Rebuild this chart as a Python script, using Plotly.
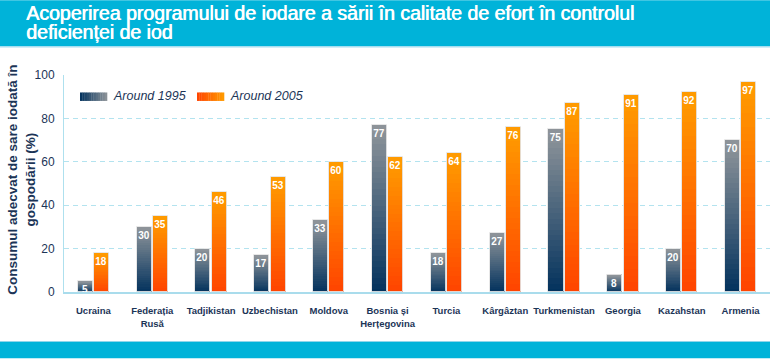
import plotly.graph_objects as go

# ---- data ----
countries = ["Ucraina", "Federația<br>Rusă", "Tadjikistan", "Uzbechistan", "Moldova",
             "Bosnia și<br>Herțegovina", "Turcia", "Kârgâztan", "Turkmenistan",
             "Georgia", "Kazahstan", "Armenia"]
around_1995 = [5, 30, 20, 17, 33, 77, 18, 27, 75, 8, 20, 70]
around_2005 = [18, 35, 46, 53, 60, 62, 64, 76, 87, 91, 92, 97]
series_names = ["Around 1995", "Around 2005"]
y_ticks = [0, 20, 40, 60, 80, 100]

TITLE1 = "Acoperirea programului de iodare a sării în calitate de efort în controlul"
TITLE2 = "deficienței de iod"
YTITLE = "Consumul adecvat de sare iodată în<br>gospodării (%)"

# ---- style ----
W, H = 770, 359
L, R, T, B = 64, 0, 75, 66.5
PW, PH = W - L - R, H - T - B
NAVY_TXT = "#1c3557"
CYAN = "#00b3d9"

grad_1995 = ("#00305c", "#8f959a")   # bottom, top
grad_2005 = ("#ff4200", "#ff9c00")
K = 30


def hex2rgb(h):
    h = h.lstrip("#")
    return tuple(int(h[i:i + 2], 16) for i in (0, 2, 4))


def lerp(c1, c2, t):
    a, b = hex2rgb(c1), hex2rgb(c2)
    return "rgb(%d,%d,%d)" % tuple(round(a[i] + (b[i] - a[i]) * t) for i in range(3))


def px(xp):
    return (xp - L) / PW


def py(yp):
    return (H - B - yp) / PH


fig = go.Figure()

for vals, grad, off, name in [(around_1995, grad_1995, -0.265, series_names[0]),
                              (around_2005, grad_2005, 0.01, series_names[1])]:
    for k in range(K):
        t = (k + 0.5) / K
        lo = max(k - 0.5, 0)
        fig.add_trace(go.Bar(
            x=countries, y=[v * (k + 1 - lo) / K for v in vals],
            base=[v * lo / K for v in vals],
            offset=off, width=0.255,
            marker=dict(color=lerp(grad[0], grad[1], t), line=dict(width=0)),
            showlegend=False, hoverinfo="skip"))
    fig.add_trace(go.Bar(
        x=countries, y=vals, name=name, offset=off, width=0.255,
        marker=dict(color="rgba(0,0,0,0)", line=dict(color="rgba(228,228,228,0.9)", width=1)),
        text=vals, textposition="inside", insidetextanchor="end", constraintext="none",
        textangle=0,
        textfont=dict(family="Arial", size=10, color="white", weight="bold"),
        showlegend=False))

shapes = [
    dict(type="rect", xref="paper", yref="paper", x0=px(0), x1=px(W), y0=py(0), y1=py(46),
         fillcolor=CYAN, line=dict(width=0), layer="above"),
    dict(type="rect", xref="paper", yref="paper", x0=px(0), x1=px(W), y0=py(46), y1=py(47.5),
         fillcolor="#a6def0", line=dict(width=0), layer="above"),
    dict(type="rect", xref="paper", yref="paper", x0=px(0), x1=px(W), y0=py(342), y1=py(359),
         fillcolor=CYAN, line=dict(width=0), layer="above"),
    dict(type="rect", xref="paper", yref="paper", x0=px(0), x1=px(W), y0=py(341.5), y1=py(342.5),
         fillcolor="#8fd6ea", line=dict(width=0), layer="above"),
]

# legend swatches (horizontal gradient)
NS = 12
for (x0, grad) in [(80, grad_1995), (197, grad_2005)]:
    w = 27 / NS
    for i in range(NS):
        t = (i + 0.5) / NS
        shapes.append(dict(type="rect", xref="paper", yref="paper",
                           x0=px(x0 + i * w), x1=px(x0 + (i + 1) * w + 0.3),
                           y0=py(101), y1=py(92.5),
                           fillcolor=lerp(grad[0], grad[1], t), line=dict(width=0)))

TFONT = dict(family="Liberation Sans Narrow, Arial Narrow, Arial", size=19.5, color="white",
             shadow="0.7px 0px 0px white")
annotations = [
    dict(text=TITLE1, xref="paper", yref="paper", x=px(24), y=py(21), xanchor="left",
         yanchor="bottom", yshift=-5, showarrow=False, font=TFONT),
    dict(text=TITLE2, xref="paper", yref="paper", x=px(24), y=py(40), xanchor="left",
         yanchor="bottom", yshift=-5, showarrow=False, font=TFONT),
    dict(text=YTITLE, xref="paper", yref="paper", x=px(22), y=py(180), xanchor="center",
         yanchor="middle", textangle=-90, showarrow=False,
         font=dict(family="Arial", size=13.5, color=NAVY_TXT, weight="bold")),
    dict(text="<i>" + series_names[0] + "</i>", xref="paper", yref="paper", x=px(111), y=py(96.5),
         xanchor="left", yanchor="middle", showarrow=False,
         font=dict(family="Arial", size=12.5, color=NAVY_TXT)),
    dict(text="<i>" + series_names[1] + "</i>", xref="paper", yref="paper", x=px(228), y=py(96.5),
         xanchor="left", yanchor="middle", showarrow=False,
         font=dict(family="Arial", size=12.5, color=NAVY_TXT)),
]

fig.update_layout(
    width=W, height=H, margin=dict(l=L, r=R, t=T, b=B, pad=0),
    paper_bgcolor="white", plot_bgcolor="white",
    barmode="overlay", bargap=0,
    shapes=shapes, annotations=annotations, showlegend=False,
    xaxis=dict(type="category", range=[-0.5, 11.5], showgrid=False, zeroline=False,
               showline=True, linecolor="#a9dcec", linewidth=2, ticks="",
               ticklabelstandoff=9,
               tickfont=dict(family="Arial", size=9.5, color=NAVY_TXT, weight="bold")),
    yaxis=dict(range=[0, 100], tickvals=y_ticks, showgrid=True, gridcolor="#b3e3ef",
               griddash="5px,4px", gridwidth=1, zeroline=False, showline=True,
               linecolor="#aee0ee", linewidth=1, ticks="", ticklabelstandoff=6,
               tickfont=dict(family="Arial", size=12, color=NAVY_TXT)),
)

fig.write_html("out.html", config={"displayModeBar": False},
               post_script="document.body.style.margin='0';document.body.style.overflow='hidden';")
